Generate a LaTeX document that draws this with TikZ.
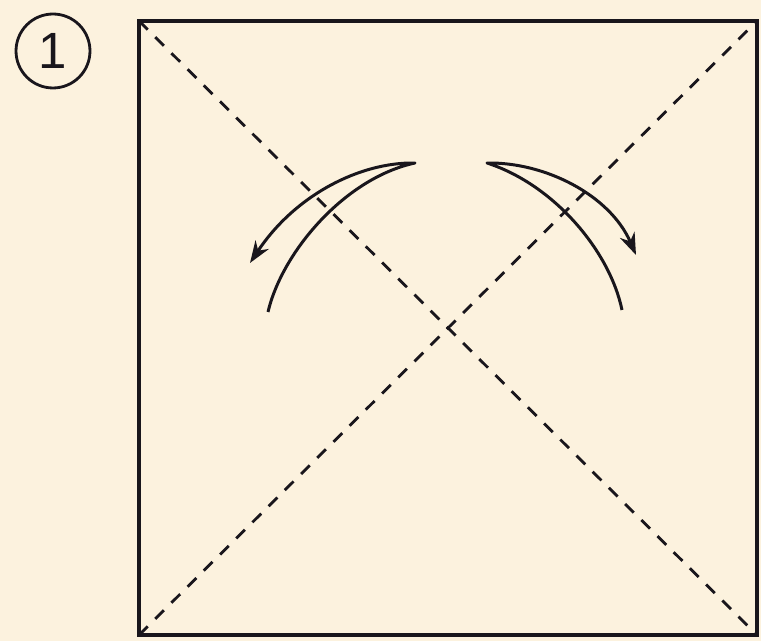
\documentclass[tikz,border=0pt]{standalone}
\usepackage{fontspec}
\setmainfont{Liberation Sans}
\usepackage{xcolor}
\usetikzlibrary{arrows.meta}
\definecolor{paper}{RGB}{252,242,222}
\definecolor{ink}{RGB}{25,22,28}
\newcommand{\sheet}{%
  \draw[line width=2.4pt,line join=miter] (nw) rectangle (se);}
\newcommand{\crease}[2]{\draw[line width=1.6pt,dash pattern=on 7pt off 6pt] (#1) -- (#2);}

\begin{document}
\begin{tikzpicture}[x=0.02cm,y=-0.02cm,ink,
  turn/.style={line width=1.7pt,line join=round,-{Stealth[length=12.5pt,width=9pt]}}]
  \fill[paper] (0,0) rectangle (761,641);
  \useasboundingbox (0,0) rectangle (761,641);
  \coordinate (nw) at (139,21); \coordinate (ne) at (757,21);
  \coordinate (sw) at (139,635); \coordinate (se) at (757,635);
  \sheet
  \crease{nw}{se} \crease{sw}{ne}
  \node[circle,draw,line width=1.6pt,minimum size=1.48cm,inner sep=0pt,font=\fontsize{29}{30}\selectfont]
    (stepno) at (53,51) {1};
  \coordinate (ltip) at (415,163); \coordinate (rtip) at (487,163);
  \draw[turn] (268,312) .. controls (282,252) and (345,178) .. (ltip)
    .. controls (360,162) and (295,195) .. (250,263);
  \draw[turn] (622,310) .. controls (610,252) and (555,185) .. (rtip)
    .. controls (545,162) and (610,195) .. (636,255);
\end{tikzpicture}
\end{document}
